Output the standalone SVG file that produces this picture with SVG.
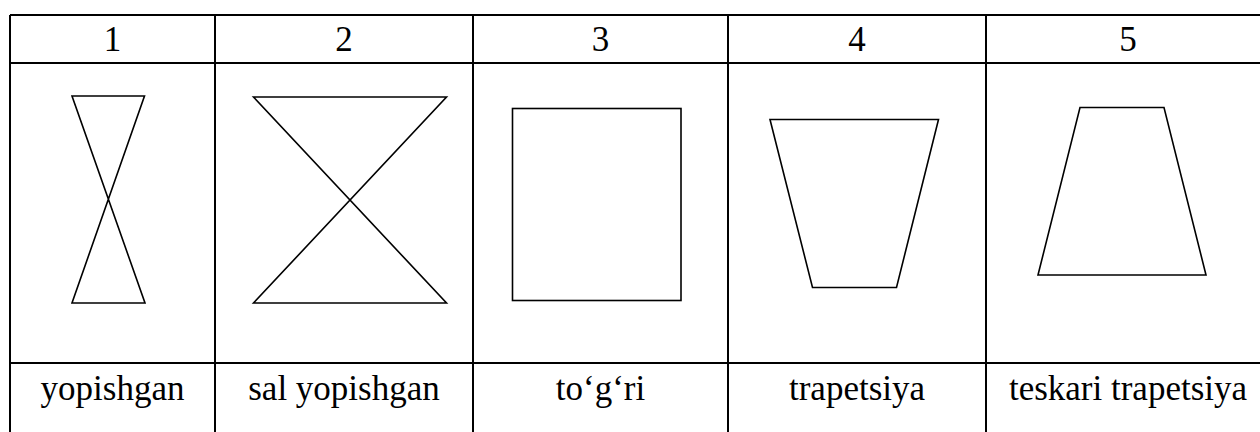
<svg xmlns="http://www.w3.org/2000/svg" width="1260" height="432" viewBox="0 0 1260 432">
<style>
.grid{stroke:#000;stroke-width:2;fill:none}
.shp{stroke:#000;stroke-width:1.6;fill:none;stroke-linejoin:miter}
text{font-family:'Liberation Serif','Times New Roman',Tinos,'DejaVu Serif',serif;font-size:35px;fill:#000;text-anchor:middle}
</style>
<rect width="1260" height="432" fill="#fff"/>
<g id="table" class="grid">
<line x1="10" y1="15" x2="1270" y2="15"/>
<line x1="10" y1="63" x2="1270" y2="63"/>
<line x1="10" y1="363" x2="1270" y2="363"/>
<line x1="10" y1="15" x2="10" y2="440"/>
<line x1="215" y1="15" x2="215" y2="440"/>
<line x1="473" y1="15" x2="473" y2="440"/>
<line x1="728" y1="15" x2="728" y2="440"/>
<line x1="986" y1="15" x2="986" y2="440"/>
</g>
<g id="headers">
<text x="112.5" y="51">1</text>
<text x="344" y="51">2</text>
<text x="600.5" y="51">3</text>
<text x="857" y="51">4</text>
<text x="1128" y="51">5</text>
</g>
<g id="shape1"><polygon class="shp" points="72,96 144.5,96 72,303 145,303"/></g>
<g id="shape2"><polygon class="shp" points="253.5,97 446.5,97 253.5,303 446.5,303"/></g>
<g id="shape3"><rect class="shp" x="512.5" y="108.5" width="168.5" height="192"/></g>
<g id="shape4"><polygon class="shp" points="770,119.5 938.5,119.5 896.5,287.5 812.5,287.5"/></g>
<g id="shape5"><polygon class="shp" points="1080,107.5 1164,107.5 1206,275 1038,275"/></g>
<g id="labels">
<text x="112.5" y="400">yopishgan</text>
<text x="344" y="400">sal yopishgan</text>
<text x="600.5" y="400">to‘g‘ri</text>
<text x="857" y="400">trapetsiya</text>
<text x="1128" y="400">teskari trapetsiya</text>
</g>
</svg>
